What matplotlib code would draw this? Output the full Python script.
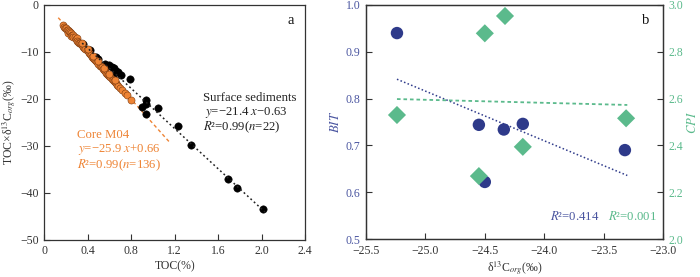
import numpy as np
import matplotlib
matplotlib.use("Agg")
import matplotlib.pyplot as plt

plt.rcParams['font.family'] = ['Liberation Serif', 'DejaVu Serif']
plt.rcParams['mathtext.fontset'] = 'stix'
plt.rcParams['axes.unicode_minus'] = True

# ---------------- Panel a data ----------------
surf_toc = [0.36, 0.42, 0.48, 0.50, 0.56, 0.58, 0.60, 0.62, 0.64, 0.66, 0.68, 0.71,
            0.63, 0.79, 0.935, 0.935, 0.90, 1.05, 0.935, 1.23, 1.35, 1.69, 1.77, 2.01]
surf_val = [-8.2, -9.6, -11.0, -11.6, -12.6, -13.0, -12.8, -13.3, -13.5, -14.0, -14.3, -14.9,
            -15.4, -15.7, -20.2, -21.0, -21.8, -22.0, -23.3, -25.7, -29.8, -37.0, -38.9, -43.5]

core_toc = [0.17, 0.18, 0.19, 0.20, 0.21, 0.22, 0.22, 0.23, 0.24, 0.25, 0.25, 0.26, 0.27, 0.27,
            0.28, 0.29, 0.30, 0.30, 0.31, 0.32, 0.33, 0.34, 0.35, 0.36, 0.37, 0.38, 0.39, 0.40,
            0.41, 0.42, 0.43, 0.44, 0.45, 0.46, 0.47, 0.48, 0.49, 0.50, 0.51, 0.52, 0.53, 0.54,
            0.55, 0.56, 0.57, 0.58, 0.59, 0.60, 0.61, 0.62, 0.63, 0.64, 0.65, 0.66, 0.67, 0.68,
            0.70, 0.72, 0.74, 0.76, 0.80, 0.35, 0.40, 0.45, 0.50, 0.55, 0.60, 0.65]
core_val = [-4.2, -4.6, -4.8, -5.0, -5.3, -5.4, -5.9, -5.6, -5.8, -6.0, -6.5, -6.3, -6.4, -6.9,
            -6.8, -7.2, -7.0, -7.6, -7.8, -8.0, -8.1, -8.4, -8.6, -8.9, -9.1, -9.4, -9.6, -9.9,
            -10.2, -10.4, -10.6, -11.0, -11.2, -11.5, -11.8, -12.0, -12.2, -12.5, -12.9, -13.0,
            -13.3, -13.6, -13.8, -14.1, -14.4, -14.6, -14.9, -15.2, -15.4, -15.7, -15.9, -16.2,
            -16.4, -16.7, -17.0, -17.2, -17.7, -18.2, -18.7, -19.2, -20.3, -8.0, -9.4, -10.8,
            -12.0, -13.4, -14.7, -15.9]

surf_fit = (-21.4, -0.63)
surf_fit_range = (0.35, 2.03)
core_fit = (-25.9, 0.66)
core_fit_range = (0.13, 1.16)

# ---------------- Panel b data ----------------
d13c_bit = [-25.24, -24.55, -24.34, -24.18, -23.32, -24.50]
bit = [0.940, 0.744, 0.734, 0.746, 0.690, 0.622]
d13c_cpi = [-25.24, -24.50, -24.33, -23.31, -24.18, -24.55]
cpi = [2.530, 2.879, 2.953, 2.516, 2.394, 2.269]
bit_fit = (-0.106, -1.834)
cpi_fit = (-0.013, 2.270)
fit_range_b = (-25.24, -23.30)

ORANGE = '#EE8435'
NAVY = '#2E3A8A'
NAVY_T = '#4A55A0'
GREEN = '#5BBA8C'
AX = '#333333'
FS = 8.5
TFS = 9.2

fig = plt.figure(figsize=(7.0, 2.77), dpi=100)

# ---------- Panel a ----------
ax = fig.add_axes([0.063, 0.134, 0.373, 0.848])
xr = np.array(core_fit_range)
ax.plot(xr, core_fit[0] * xr + core_fit[1], color=ORANGE, lw=1.0, ls=(0, (2.5, 2.0)), zorder=1)
xr = np.array(surf_fit_range)
ax.plot(xr, surf_fit[0] * xr + surf_fit[1], color='#222222', lw=1.1, ls=(0, (1.2, 1.8)), zorder=4)
ax.scatter(surf_toc, surf_val, s=28, color='black', edgecolor='black', lw=0.4, zorder=2)
ax.scatter(core_toc, core_val, s=26, color=ORANGE, edgecolor='#7a3a10', lw=0.4, zorder=3)
ax.set_xlim(0, 2.4)
ax.set_ylim(-50, 0)
ax.set_xticks([0, 0.4, 0.8, 1.2, 1.6, 2.0, 2.4])
ax.set_xticklabels(['0', '0.4', '0.8', '1.2', '1.6', '2.0', '2.4'])
ax.set_yticks([0, -10, -20, -30, -40, -50])
ax.set_yticklabels(['0', '\u221210', '\u221220', '\u221230', '\u221240', '\u221250'])
ax.tick_params(direction='in', length=4, width=0.8, labelsize=FS, colors=AX, pad=4)
for s in ax.spines.values():
    s.set_color(AX)
    s.set_linewidth(0.9)
ax.set_xlabel('TOC(%)', fontsize=FS, color=AX, labelpad=2)
ax.set_ylabel('TOC\u00d7\u03b4$^{13}$C$_{org}$(\u2030)', fontsize=FS, color=AX, labelpad=1)
ax.text(0.955, 0.935, 'a', transform=ax.transAxes, fontsize=10.5, ha='right', va='center', color='#111111')
ax.text(1.46, -19.7, 'Surface sediments', fontsize=TFS, color='#222222', ha='left', va='center')
ax.text(1.48, -22.8, '$y$=\u221221.4 $x$\u22120.63', fontsize=TFS, color='#222222', ha='left', va='center')
ax.text(1.46, -26.1, '$R$\u00b2=0.99($n$=22)', fontsize=TFS, color='#222222', ha='left', va='center')
ax.text(0.30, -27.7, 'Core M04', fontsize=TFS, color=ORANGE, ha='left', va='center')
ax.text(0.31, -30.8, '$y$=\u221225.9 $x$+0.66', fontsize=TFS, color=ORANGE, ha='left', va='center')
ax.text(0.30, -34.1, '$R$\u00b2=0.99($n$=136)', fontsize=TFS, color=ORANGE, ha='left', va='center')

# ---------- Panel b ----------
bx = fig.add_axes([0.523, 0.137, 0.424, 0.845])
xr = np.array(fit_range_b)
bx.plot(xr, bit_fit[0] * xr + bit_fit[1], color=NAVY, lw=1.1, ls=(0, (1.0, 1.5)), zorder=1)
bx.scatter(d13c_bit, bit, s=80, color=NAVY, edgecolor='none', zorder=2)
bx.set_xlim(-25.5, -23.0)
bx.set_ylim(0.5, 1.0)
bx.set_xticks([-25.5, -25.0, -24.5, -24.0, -23.5, -23.0])
bx.set_xticklabels(['\u221225.5', '\u221225.0', '\u221224.5', '\u221224.0', '\u221223.5', '\u221223.0'])
bx.set_yticks([0.5, 0.6, 0.7, 0.8, 0.9, 1.0])
bx.set_yticklabels(['0.5', '0.6', '0.7', '0.8', '0.9', '1.0'])
bx.tick_params(axis='x', direction='in', length=4, width=0.8, labelsize=FS, colors=AX, pad=4)
bx.tick_params(axis='y', direction='in', length=4, width=0.8, labelsize=FS, colors=AX, labelcolor=NAVY_T, pad=4)
for s in bx.spines.values():
    s.set_color(AX)
    s.set_linewidth(0.9)
bx.set_xlabel('\u03b4$^{13}$C$_{org}$(\u2030)', fontsize=FS, color=AX, labelpad=2)
bx.set_ylabel('$BIT$', fontsize=TFS, color=NAVY_T, labelpad=3)
bx.text(0.955, 0.935, 'b', transform=bx.transAxes, fontsize=10.5, ha='right', va='center', color='#111111')
bx.text(-23.95, 0.549, '$R$\u00b2=0.414', fontsize=TFS, color=NAVY_T, ha='left', va='center')
bx.text(-23.46, 0.549, '$R$\u00b2=0.001', fontsize=TFS, color=GREEN, ha='left', va='center')

cx = bx.twinx()
cx.plot(xr, cpi_fit[0] * xr + cpi_fit[1], color=GREEN, lw=1.3, ls=(0, (2.0, 1.6)), zorder=1)
cx.scatter(d13c_cpi, cpi, s=85, marker='D', color=GREEN, edgecolor='none', zorder=3)
cx.set_ylim(2.0, 3.0)
cx.set_yticks([2.0, 2.2, 2.4, 2.6, 2.8, 3.0])
cx.set_yticklabels(['2.0', '2.2', '2.4', '2.6', '2.8', '3.0'])
cx.tick_params(axis='y', direction='in', length=4, width=0.8, labelsize=FS, colors=AX, labelcolor=GREEN, pad=4)
for s in cx.spines.values():
    s.set_color(AX)
    s.set_linewidth(0.9)
cx.set_ylabel('$CPI$', fontsize=TFS, color=GREEN, labelpad=2)

fig.savefig('out.png', dpi=100)
